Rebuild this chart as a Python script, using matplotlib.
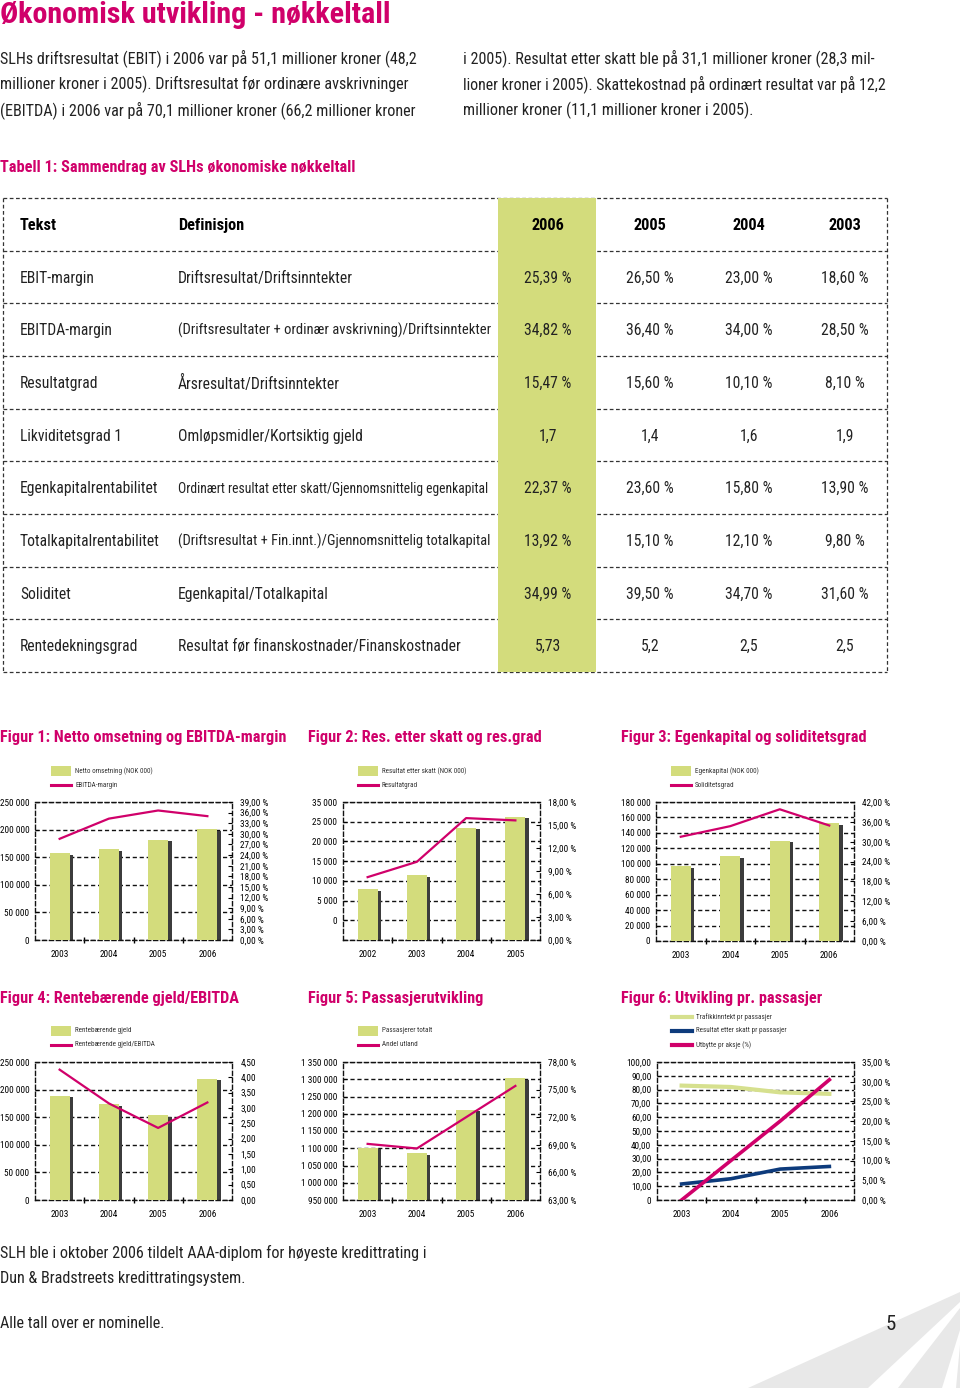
import matplotlib.pyplot as plt
from matplotlib.patches import Rectangle, Polygon
import numpy as np

W, H = 960, 1388
plt.rcParams['font.family'] = ['Roboto Condensed', 'Liberation Sans Narrow', 'Roboto', 'DejaVu Sans']
plt.rcParams['font.stretch'] = 'condensed'

PINK = '#D0006A'
GREEN = '#D3DC7C'
NAVY = '#0D3B7C'
LGREEN = '#D6E08E'
DASH = (0, (3, 2))

# ---- text data
title = "Økonomisk utvikling - nøkkeltall"
body_left = ["SLHs driftsresultat (EBIT) i 2006 var på 51,1 millioner kroner (48,2",
             "millioner kroner i 2005). Driftsresultat før ordinære avskrivninger",
             "(EBITDA) i 2006 var på 70,1 millioner kroner (66,2 millioner kroner"]
body_right = ["i 2005). Resultat etter skatt ble på 31,1 millioner kroner (28,3 mil-",
              "lioner kroner i 2005). Skattekostnad på ordinært resultat var på 12,2",
              "millioner kroner (11,1 millioner kroner i 2005)."]
table_title = "Tabell 1: Sammendrag av SLHs økonomiske nøkkeltall"
bottom_lines = ["SLH ble i oktober 2006 tildelt AAA-diplom for høyeste kredittrating i",
                "Dun & Bradstreets kredittratingsystem.",
                "Alle tall over er nominelle."]

# ---- table data
col_heads = ["Tekst", "Definisjon", "2006", "2005", "2004", "2003"]
row_names = ["EBIT-margin", "EBITDA-margin", "Resultatgrad", "Likviditetsgrad 1",
             "Egenkapitalrentabilitet", "Totalkapitalrentabilitet", "Soliditet",
             "Rentedekningsgrad"]
definitions = ["Driftsresultat/Driftsinntekter",
               "(Driftsresultater + ordinær avskrivning)/Driftsinntekter",
               "Årsresultat/Driftsinntekter",
               "Omløpsmidler/Kortsiktig gjeld",
               "Ordinært resultat etter skatt/Gjennomsnittelig egenkapital",
               "(Driftsresultat + Fin.innt.)/Gjennomsnittelig totalkapital",
               "Egenkapital/Totalkapital",
               "Resultat før finanskostnader/Finanskostnader"]
v2006 = ["25,39 %", "34,82 %", "15,47 %", "1,7", "22,37 %", "13,92 %", "34,99 %", "5,73"]
v2005 = ["26,50 %", "36,40 %", "15,60 %", "1,4", "23,60 %", "15,10 %", "39,50 %", "5,2"]
v2004 = ["23,00 %", "34,00 %", "10,10 %", "1,6", "15,80 %", "12,10 %", "34,70 %", "2,5"]
v2003 = ["18,60 %", "28,50 %", "8,10 %", "1,9", "13,90 %", "9,80 %", "31,60 %", "2,5"]

# ---- chart data
years = ["2003", "2004", "2005", "2006"]
years_fig2 = ["2002", "2003", "2004", "2005"]
netto_omsetning = [157000, 164000, 182000, 201000]
ebitda_margin = [28.6, 34.3, 36.6, 35.0]
res_etter_skatt = [12900, 16500, 28500, 31300]
resultatgrad = [8.2, 10.2, 15.9, 15.6]
egenkapital = [97000, 109500, 130000, 152500]
soliditetsgrad = [31.5, 34.7, 39.8, 34.9]
rentebaerende_gjeld = [189000, 174000, 154000, 220000]
gjeld_ebitda = [4.25, 3.15, 2.35, 3.18]
passasjerer = [1102000, 1085500, 1211500, 1303500]
andel_utland = [69.1, 68.6, 72.0, 75.4]
trafikkinntekt = [82.9, 81.9, 78.0, 76.9]
resultat_pr_pass = [11.6, 15.4, 22.4, 24.3]
utbytte = [0.0, 10.0, 20.0, 30.5]

fig = plt.figure(figsize=(9.6, 13.88), dpi=100)
bg = fig.add_axes([0, 0, 1, 1])
bg.set_xlim(0, W)
bg.set_ylim(H, 0)
bg.axis('off')
rend = fig.canvas.get_renderer()


def size_for(s, target, weight='normal'):
    # font size that makes s about target pixels wide
    t = bg.text(0, 0, s, fontsize=10, fontweight=weight)
    w = t.get_window_extent(rend).width
    t.remove()
    return 10 * target / w


def put(x, y, s, size, maxw=None, **kw):
    t = bg.text(x, y, s, fontsize=size, va='center', **kw)
    if maxw:
        w = t.get_window_extent(rend).width
        if w > maxw:
            t.set_fontsize(size * maxw / w)
    return t


# background rays bottom right
for pts in [[(960, 1292), (748, 1388), (868, 1388), (960, 1302)],
            [(960, 1308), (898, 1388), (942, 1388), (960, 1330)],
            [(960, 1345), (956, 1388), (960, 1388)]]:
    bg.add_patch(Polygon(pts, closed=True, color='#E8E8E8', lw=0, zorder=0))

put(0, 15, title, size_for(title, 392, 'bold'), fontweight='bold', color=PINK)
body_size = size_for(body_right[2], 289)
for i, s in enumerate(body_left):
    put(0, 58 + 26 * i, s, body_size, maxw=424, color='#222')
for i, s in enumerate(body_right):
    put(463, 58 + 26 * i, s, body_size, maxw=424, color='#222')
put(0, 167, table_title, size_for(table_title, 355, 'bold'), fontweight='bold', color=PINK)

# ---- table
tx0, tx1, ty0, ty1 = 3, 887, 198, 672
rh = (ty1 - ty0) / (len(row_names) + 1)
bg.add_patch(Rectangle((498, ty0), 98, ty1 - ty0, color=GREEN, lw=0, zorder=2))
for k in range(len(row_names) + 2):
    yy = ty0 + k * rh
    bg.plot([tx0, tx1], [yy, yy], color='#333', lw=0.9, ls=DASH, zorder=1)
for xx in (tx0, tx1):
    bg.plot([xx, xx], [ty0, ty1], color='#333', lw=0.9, ls=DASH, zorder=1)

col_x = [20, 178, 548, 650, 749, 845]
col_ha = ['left', 'left', 'center', 'center', 'center', 'center']
col_max = [140, 312, 90, 90, 90, 90]
head_size = size_for("Definisjon", 66, 'bold')
cell_size = size_for(definitions[0], 174)
for j, h in enumerate(col_heads):
    put(col_x[j], ty0 + rh / 2 + 1, h, head_size, fontweight='bold', ha=col_ha[j], zorder=3)
for i in range(len(row_names)):
    yy = ty0 + (i + 1.5) * rh + 1
    cells = [row_names[i], definitions[i], v2006[i], v2005[i], v2004[i], v2003[i]]
    for j, s in enumerate(cells):
        put(col_x[j], yy, s, cell_size, maxw=col_max[j], ha=col_ha[j], color='#222', zorder=3)


def box(x0, y0, x1, y1):
    return fig.add_axes([x0 / W, 1 - y1 / H, (x1 - x0) / W, (y1 - y0) / H])


def fmt_int(v):
    return f"{int(round(v)):,}".replace(',', ' ')


def fmt_dec(v, pct=True):
    s = f"{v:.2f}".replace('.', ',')
    return s + " %" if pct else s


tick_size = size_for("250 000", 29)
year_size = size_for("2003", 18)
leg_size = size_for("Netto omsetning (NOK 000)", 78)


def chart(rect, xlabels, lticks, llabels, rticks, rlabels):
    ax = box(*rect)
    x = np.arange(len(xlabels))
    ax.set_xlim(-0.5, len(xlabels) - 0.5)
    ax.set_ylim(lticks[0], lticks[-1])
    ax.set_yticks(lticks)
    ax.set_yticklabels(llabels)
    ax.set_xticks(x)
    ax.set_xticklabels(xlabels)
    ax.set_xticks([0.5, 1.5, 2.5], minor=True)
    ax.tick_params(axis='x', which='major', length=0, labelsize=year_size, pad=7)
    ax.tick_params(axis='x', which='minor', length=5, direction='inout', width=1)
    ax.tick_params(axis='y', length=3, direction='in', labelsize=tick_size, pad=4)
    ax.set_axisbelow(True)
    ax.grid(axis='y', color='#111', ls=DASH, lw=1)
    for sp in ax.spines.values():
        sp.set_linestyle(DASH)
        sp.set_linewidth(1)
        sp.set_color('#111')
    ax2 = ax.twinx()
    ax2.set_ylim(rticks[0], rticks[-1])
    ax2.set_yticks(rticks)
    ax2.set_yticklabels(rlabels)
    ax2.tick_params(axis='y', length=3, direction='in', labelsize=tick_size, pad=6)
    for sp in ax2.spines.values():
        sp.set_visible(False)
    return ax, ax2, x


def bars(ax, x, vals, span):
    vals = np.array(vals, dtype=float)
    ax.bar(x + 0.07, vals - 0.012 * span, 0.41, color='#3C3C3C', zorder=2)
    ax.bar(x, vals, 0.41, color=GREEN, zorder=3)


def legend(x, y, items):
    for k, (kind, color, label) in enumerate(items):
        yy = y + k * 14
        if kind == 'bar':
            bg.add_patch(Rectangle((x, yy - 5), 20, 10, color=color, lw=0))
        else:
            bg.plot([x, x + 20], [yy, yy], color=color, lw=2.2 if kind == 'line' else 3)
        put(x + 24, yy, label, leg_size, color='#333')


fig_titles = [(0, 737, "Figur 1: Netto omsetning og EBITDA-margin"),
              (308, 737, "Figur 2: Res. etter skatt og res.grad"),
              (621, 737, "Figur 3: Egenkapital og soliditetsgrad"),
              (0, 998, "Figur 4: Rentebærende gjeld/EBITDA"),
              (308, 998, "Figur 5: Passasjerutvikling"),
              (621, 998, "Figur 6: Utvikling pr. passasjer")]
ft_size = size_for(fig_titles[0][2], 286, 'bold')
for fx, fy, s in fig_titles:
    put(fx, fy, s, ft_size, fontweight='bold', color=PINK)

# Figur 1
lt = list(range(0, 250001, 50000))
rt = list(range(0, 40, 3))
ax, ax2, x = chart((35, 802, 232, 940), years, lt, [fmt_int(v) for v in lt],
                   rt, [fmt_dec(v) for v in rt])
bars(ax, x, netto_omsetning, 250000)
ax2.plot(x, ebitda_margin, color=PINK, lw=1.6)
legend(51, 771, [('bar', GREEN, "Netto omsetning (NOK 000)"),
                 ('line', PINK, "EBITDA-margin")])

# Figur 2 (tick labels as printed in the source)
lt = list(range(0, 35001, 5000))
fig2_llabels = ["", "0", "5 000", "10 000", "15 000", "20 000", "25 000", "35 000"]
rt = list(range(0, 19, 3))
ax, ax2, x = chart((343, 802, 540, 940), years_fig2, lt, fig2_llabels,
                   rt, [fmt_dec(v) for v in rt])
bars(ax, x, res_etter_skatt, 35000)
ax2.plot(x, resultatgrad, color=PINK, lw=1.6)
legend(358, 771, [('bar', GREEN, "Resultat etter skatt (NOK 000)"),
                  ('line', PINK, "Resultatgrad")])

# Figur 3
lt = list(range(0, 180001, 20000))
rt = list(range(0, 43, 6))
ax, ax2, x = chart((656, 802, 854, 941), years, lt, [fmt_int(v) for v in lt],
                   rt, [fmt_dec(v) for v in rt])
bars(ax, x, egenkapital, 180000)
ax2.plot(x, soliditetsgrad, color=PINK, lw=1.6)
legend(671, 771, [('bar', GREEN, "Egenkapital (NOK 000)"),
                  ('line', PINK, "Soliditetsgrad")])

# Figur 4
lt = list(range(0, 250001, 50000))
rt = [i * 0.5 for i in range(10)]
ax, ax2, x = chart((35, 1062, 232, 1200), years, lt, [fmt_int(v) for v in lt],
                   rt, [fmt_dec(v, False) for v in rt])
bars(ax, x, rentebaerende_gjeld, 250000)
ax2.plot(x, gjeld_ebitda, color=PINK, lw=1.6)
legend(51, 1031, [('bar', GREEN, "Rentebærende gjeld"),
                  ('line', PINK, "Rentebærende gjeld/EBITDA")])

# Figur 5
lt = list(range(950000, 1350001, 50000))
rt = list(range(63, 79, 3))
ax, ax2, x = chart((343, 1062, 540, 1200), years, lt, [fmt_int(v) for v in lt],
                   rt, [fmt_dec(v) for v in rt])
bars(ax, x, passasjerer, 400000)
ax2.plot(x, andel_utland, color=PINK, lw=1.6)
legend(358, 1031, [('bar', GREEN, "Passasjerer totalt"),
                   ('line', PINK, "Andel utland")])

# Figur 6
lt = list(range(0, 101, 10))
rt = list(range(0, 36, 5))
ax, ax2, x = chart((657, 1062, 854, 1200), years, lt,
                   ["0"] + [fmt_dec(v, False) for v in lt[1:]],
                   rt, [fmt_dec(v) for v in rt])
ax.plot(x, trafikkinntekt, color=LGREEN, lw=3)
ax.plot(x, resultat_pr_pass, color=NAVY, lw=2.6)
ax2.plot(x, utbytte, color=PINK, lw=2.6)
legend(672, 1017, [('thick', LGREEN, "Trafikkinntekt pr passasjer"),
                   ('thick', NAVY, "Resultat etter skatt pr passasjer"),
                   ('thick', PINK, "Utbytte pr aksje (%)")])

# bottom text
bot_size = size_for(bottom_lines[0], 424)
for yy, s in zip([1253, 1279, 1323], bottom_lines):
    put(0, yy, s, bot_size, color='#222')
put(891, 1325, "5", 15, ha='center', color='#222')

fig.savefig('out.png', dpi=100)
